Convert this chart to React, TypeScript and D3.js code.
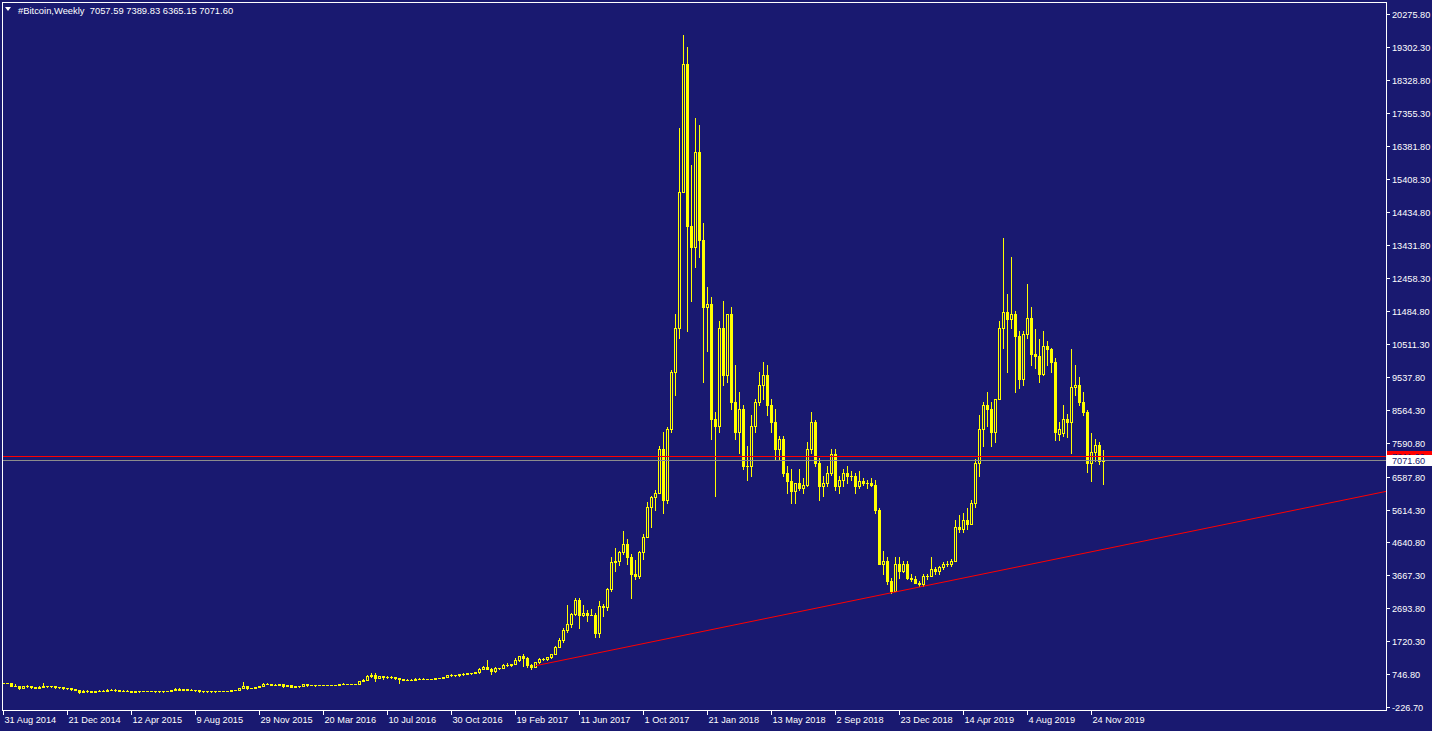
import React from "react";
import * as d3 from "d3";

// ---- Weekly candles (bar 0 = 31 Aug 2014, last bar = 15 Dec 2019) ----
const opens = [
  478,478,477,400,378,330,379,389,354,338,
  370,388,376,375,353,350,318,319,287,274,
  210,252,227,222,234,244,254,275,285,262,
  250,255,236,225,228,236,240,236,239,230,
  229,245,249,264,292,285,286,283,266,261,
  231,229,236,232,231,233,239,246,262,283,
  326,380,330,320,360,387,435,440,425,433,
  450,384,405,370,380,380,437,425,412,412,
  412,414,418,420,430,462,448,459,454,441,
  526,578,680,725,640,676,645,665,655,628,
  590,568,580,575,605,606,610,600,610,616,
  637,655,702,700,700,735,735,765,775,790,
  895,965,905,820,920,915,1015,1000,1050,1170,
  1275,1230,1020,960,1085,1190,1180,1240,1340,1550,
  1760,2050,2210,2530,2950,2500,2550,2500,2500,1950,
  2750,2720,3250,4050,4100,4370,4600,4200,3700,3650,
  4350,4800,5700,5980,6100,7400,5900,8000,9700,11000,
  15000,18800,14000,13400,16200,13600,11600,11700,8300,8100,
  11000,9600,11400,8800,7900,8600,6900,6900,8100,8800,
  9300,9600,8700,8200,7400,7700,6700,6450,6150,6400,
  6250,6350,7400,8200,7000,6300,6400,6700,7250,6300,
  6500,6700,6600,6600,6300,6450,6400,6400,6350,5600,
  4000,4100,3500,3200,4000,3800,4000,3600,3550,3450,
  3400,3650,3650,3850,3800,3900,4000,4000,4100,5100,
  5050,5300,5200,5800,7000,8000,8700,8600,7900,8900,
  11000,11450,11250,11390,10760,9480,10820,11280,10230,10160,
  9630,10470,10360,9980,7850,7880,8300,8220,9250,9300,
  8800,8500,7006,7330,7520,7057.59,
];
const highs = [
  492,485,478,437,392,400,405,394,364,380,
  465,400,390,382,360,356,338,320,300,280,
  270,262,245,244,262,263,290,300,293,270,
  263,263,240,237,242,245,245,243,241,232,
  247,250,270,318,316,290,298,290,272,265,
  236,238,242,234,237,240,248,270,283,330,
  495,395,340,365,390,465,467,450,435,460,
  462,420,410,390,385,440,440,425,420,420,
  418,420,425,432,463,466,462,461,458,532,
  588,701,775,760,695,680,693,677,665,630,
  597,583,593,613,630,612,610,610,620,640,
  655,725,740,720,750,760,775,780,800,930,
  975,1150,915,945,930,1030,1070,1050,1210,1290,
  1350,1260,1050,1110,1210,1210,1250,1350,1570,1820,
  2100,2790,2550,2980,2990,2780,2640,2660,2560,2920,
  2820,3300,4200,4480,4400,4980,4740,4300,4130,4400,
  4900,5850,6000,6200,7500,7900,8050,9750,11400,16900,
  19650,19300,15800,17200,17000,14100,12200,11900,8500,11200,
  11800,11400,11600,9900,9100,8700,7500,8400,8900,9700,
  9990,9900,8900,8600,7800,7800,6900,6800,6400,6800,
  6550,7600,8500,8250,7150,6600,6900,7400,7400,6600,
  6800,6900,6750,6700,6750,6550,6500,6550,6500,5650,
  4400,4200,3600,4200,4200,4100,4100,3700,3650,3500,
  3700,3700,4200,3900,3950,4050,4100,4150,5300,5450,
  5500,5650,5900,7100,8400,8800,9100,8800,8900,11200,
  13650,12000,13100,11500,10900,10900,12300,11600,10950,10650,
  10900,10600,10400,10100,8200,8700,8450,10370,9900,9550,
  9100,8550,7870,7710,7620,7389.83,
];
const lows = [
  466,466,395,375,289,322,371,343,320,322,
  360,345,368,344,336,310,311,260,265,170,
  205,215,212,217,230,235,254,275,255,242,
  238,233,215,220,224,228,232,230,220,222,
  224,240,243,262,276,271,276,260,237,198,
  209,225,226,222,228,232,236,242,260,280,
  320,302,316,318,355,385,435,410,420,425,
  365,376,360,363,368,380,400,410,395,405,
  407,412,416,418,428,444,444,448,438,440,
  525,568,650,545,634,610,635,640,600,480,
  565,560,572,565,600,600,590,597,605,615,
  625,650,685,690,695,720,735,748,765,785,
  890,895,750,815,880,915,970,995,1050,1140,
  975,950,890,960,1080,1150,1170,1230,1330,1550,
  1700,1980,2150,2500,2100,2450,2300,2480,1840,1840,
  2450,2650,3200,3800,3980,4300,4000,2980,3550,3600,
  4150,4800,5100,5600,6100,5500,5800,7900,9000,10700,
  15000,10900,11800,12800,13100,9400,10300,7700,6000,7900,
  9300,9400,8600,7700,7300,6800,6500,6600,7900,8700,
  8900,8400,7900,7100,7100,6600,6100,5800,5800,6200,
  6100,6300,7300,6900,5900,6000,6300,6650,6200,6100,
  6300,6400,6500,6100,6250,6350,6250,6300,5500,4000,
  3700,3400,3150,3200,3600,3750,3550,3500,3450,3350,
  3350,3550,3650,3700,3700,3850,3950,3950,4100,4950,
  4950,5050,5200,5700,6600,7500,8100,7500,7600,8900,
  10400,9700,11000,9100,9200,9300,10700,9900,9800,9400,
  9600,9900,9700,7660,7680,7800,7760,7300,9000,8700,
  8400,6730,6450,7040,6960,6365.15,
];
const closes = [
  478,477,400,378,330,379,389,354,338,370,
  388,376,375,353,350,318,319,287,274,210,
  252,227,222,234,244,254,275,285,262,250,
  255,236,225,228,236,240,236,239,230,229,
  245,249,264,292,285,286,283,266,261,231,
  229,236,232,231,233,239,246,262,283,326,
  380,330,320,360,387,435,440,425,433,450,
  384,405,370,380,380,437,425,412,412,412,
  414,418,420,430,462,448,459,454,441,526,
  578,680,725,640,676,645,665,655,628,590,
  568,580,575,605,606,610,600,610,616,637,
  655,702,700,700,735,735,765,775,790,895,
  965,905,820,920,915,1015,1000,1050,1170,1275,
  1230,1020,960,1085,1190,1180,1240,1340,1550,1760,
  2050,2210,2530,2950,2500,2550,2500,2500,1950,2750,
  2720,3250,4050,4100,4370,4600,4200,3700,3650,4350,
  4800,5700,5980,6100,7400,5900,8000,9700,11000,15000,
  18800,14000,13400,16200,13600,11600,11700,8300,8100,11000,
  9600,11400,8800,7900,8600,6900,6900,8100,8800,9300,
  9600,8700,8200,7400,7700,6700,6450,6150,6400,6250,
  6350,7400,8200,7000,6300,6400,6700,7250,6300,6500,
  6700,6600,6600,6300,6450,6400,6400,6350,5600,4000,
  4100,3500,3200,4000,3800,4000,3600,3550,3450,3400,
  3650,3650,3850,3800,3900,4000,4000,4100,5100,5050,
  5300,5200,5800,7000,8000,8700,8600,7900,8900,11000,
  11450,11250,11390,10760,9480,10820,11280,10230,10160,9630,
  10470,10360,9980,7900,7985,8300,8220,9250,9300,8800,
  8500,7006,7330,7520,7057.59,7071.60,
];

// ---- Axes ----
const priceTicks = [
  20275.8, 19302.3, 18328.8, 17355.3, 16381.8, 15408.3, 14434.8, 13431.8,
  12458.3, 11484.8, 10511.3, 9537.8, 8564.3, 7590.8, 6587.8, 5614.3,
  4640.8, 3667.3, 2693.8, 1720.3, 746.8, -226.7,
];
const dateLabels = [
  "31 Aug 2014", "21 Dec 2014", "12 Apr 2015", "9 Aug 2015", "29 Nov 2015",
  "20 Mar 2016", "10 Jul 2016", "30 Oct 2016", "19 Feb 2017", "11 Jun 2017",
  "1 Oct 2017", "21 Jan 2018", "13 May 2018", "2 Sep 2018", "23 Dec 2018",
  "14 Apr 2019", "4 Aug 2019", "24 Nov 2019",
];
const dateLabelBars = [0, 16, 32, 48, 64, 80, 96, 112, 128, 144, 160, 176, 192, 208, 224, 240, 256, 272];

// ---- Drawn objects ----
const trendAnchors = [ { bar: 133, price: 990 }, { bar: 222, price: 3150 } ];
const hLinePrice = 7211.6;
const bidPrice = 7071.6;
const headerText = "#Bitcoin,Weekly  7057.59 7389.83 6365.15 7071.60";

const BG = "#191970";
const FG = "#ffffff";
const CANDLE = "#ffff00";
const FONT = "'Liberation Sans', Arial, sans-serif";

export default function App() {
  const W = 1432, H = 731;
  const plot = { left: 2, top: 2, right: 1386, bottom: 710 };
  const x = d3.scaleLinear().domain([0, 275]).range([3.5, 1103.5]);
  const y = d3.scaleLinear().domain([-226.7, 20275.8]).range([706.8, 14.3]);
  const ry = (v: number) => Math.round(y(v));

  const candles = closes.map((c, i) => {
    const o = opens[i], h = highs[i], l = lows[i];
    const cx = x(i);
    const bull = c >= o;
    const top = ry(Math.max(o, c));
    const bot = ry(Math.min(o, c));
    return { i, cx, bull, top, bot, yh: ry(h), yl: ry(l) };
  });

  // trend line ray
  const [a, b] = trendAnchors;
  const slope = (y(b.price) - y(a.price)) / (x(b.bar) - x(a.bar));
  const tx1 = x(a.bar), ty1 = y(a.price);
  const tx2 = plot.right, ty2 = ty1 + slope * (tx2 - tx1);

  const yH = Math.round(y(hLinePrice));
  const yB = Math.round(y(bidPrice));

  return (
    <svg width={W} height={H} style={{ position: "fixed", left: 0, top: 0, display: "block" }}
      fontFamily={FONT}>
      <rect x={0} y={0} width={W} height={H} fill={BG} />
      <defs>
        <clipPath id="plotClip">
          <rect x={plot.left} y={plot.top} width={plot.right - plot.left} height={plot.bottom - plot.top} />
        </clipPath>
      </defs>
      <g clipPath="url(#plotClip)" shapeRendering="crispEdges">
        {candles.map((d) => (
          <line key={"w" + d.i} x1={d.cx} x2={d.cx} y1={d.yh} y2={d.yl + 1} stroke={CANDLE} strokeWidth={1} />
        ))}
        {candles.map((d) =>
          d.bull && d.bot - d.top >= 2 ? (
            <rect key={"b" + d.i} x={d.cx - 1} y={d.top + 0.5} width={2} height={d.bot - d.top}
              fill={BG} stroke={CANDLE} strokeWidth={1} />
          ) : (
            <rect key={"b" + d.i} x={d.cx - 1.5} y={d.top} width={3} height={Math.max(1, d.bot - d.top + 1)}
              fill={CANDLE} />
          )
        )}
        <line x1={tx1} y1={ty1} x2={tx2} y2={ty2} stroke="#ff0000" strokeWidth={1} shapeRendering="auto" />
        <line x1={plot.left} x2={plot.right} y1={yH + 0.5} y2={yH + 0.5} stroke="#ff0000" strokeWidth={1} />
        <line x1={plot.left} x2={plot.right} y1={yB + 0.5} y2={yB + 0.5} stroke="#8c8c8c" strokeWidth={1} />
      </g>

      {/* frame */}
      <g shapeRendering="crispEdges" stroke={FG} strokeWidth={1}>
        <line x1={plot.right + 0.5} x2={plot.right + 0.5} y1={plot.top} y2={plot.bottom + 1} />
        <line x1={plot.left} x2={plot.right + 1} y1={plot.bottom + 0.5} y2={plot.bottom + 0.5} />
        <line x1={plot.left + 0.5} x2={plot.left + 0.5} y1={plot.top} y2={plot.bottom + 1} />
        <line x1={plot.left} x2={plot.right + 1} y1={plot.top + 0.5} y2={plot.top + 0.5} />
      </g>

      {/* price axis */}
      <g fontSize={9.2} fill={FG}>
        {priceTicks.map((v) => {
          const yy = Math.round(y(v)) + 0.5;
          return (
            <g key={"p" + v}>
              <line x1={plot.right + 1} x2={plot.right + 4} y1={yy} y2={yy} stroke={FG} shapeRendering="crispEdges" />
              <text x={1392} y={yy} dominantBaseline="central">{v.toFixed(2)}</text>
            </g>
          );
        })}
      </g>

      {/* price labels for the horizontal line and the bid line */}
      <g fontSize={9.2} shapeRendering="crispEdges">
        <rect x={1387} y={yH - 5} width={45} height={11} fill="#ff0000" />
        <text x={1392} y={yH + 0.5} dominantBaseline="central" fill={BG}>{hLinePrice.toFixed(2)}</text>
        <rect x={1387} y={yB - 5} width={45} height={11} fill="#ffffff" />
        <text x={1392} y={yB + 0.5} dominantBaseline="central" fill={BG}>{bidPrice.toFixed(2)}</text>
      </g>

      {/* date axis */}
      <g fontSize={9.2} fill={FG}>
        {dateLabels.map((lab, k) => {
          const xx = Math.round(x(dateLabelBars[k]) - 0.5) + 0.5;
          return (
            <g key={"d" + k}>
              <line x1={xx} x2={xx} y1={plot.bottom + 1} y2={plot.bottom + 5} stroke={FG} shapeRendering="crispEdges" />
              <text x={xx + 1} y={723}>{lab}</text>
            </g>
          );
        })}
      </g>

      {/* header */}
      <path d="M5,7 L11,7 L8,11 Z" fill={FG} />
      <text x={18} y={14} fontSize={9.4} fill={FG} style={{ whiteSpace: "pre" }}>{headerText}</text>
    </svg>
  );
}
